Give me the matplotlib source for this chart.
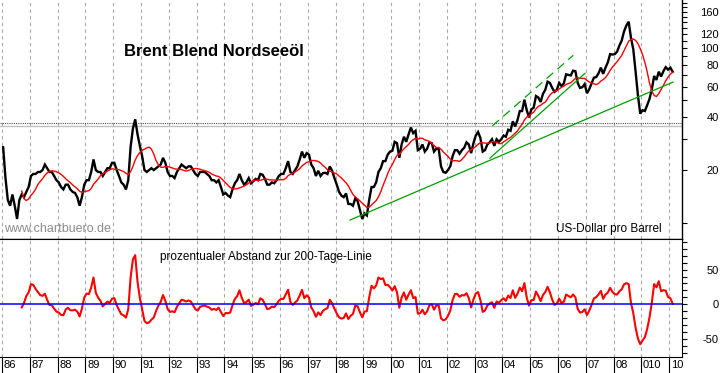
import numpy as np
import matplotlib
matplotlib.use("Agg")
import matplotlib.pyplot as plt
import matplotlib.transforms as mtransforms
from matplotlib import font_manager
from matplotlib.ticker import FixedLocator, NullFormatter, FixedFormatter

# ---------------- data (monthly Brent, USD per barrel) ----------------
p1986 = [27.0, 18.0, 13.5, 12.5, 14.5, 12.5, 10.5, 13.5, 14.5, 14.0, 15.0, 16.0]
p1987 = [18.5, 19.0, 19.0, 19.5, 19.5, 20.0, 21.5, 20.5, 19.5, 19.5, 18.5, 17.5]
p1988 = [17.0, 16.0, 15.5, 16.5, 16.5, 15.5, 15.0, 14.8, 14.0, 12.5, 14.0, 16.5]
p1989 = [17.5, 17.5, 19.5, 23.0, 20.0, 19.5, 19.5, 18.5, 19.5, 20.5, 20.5, 22.0]
p1990 = [22.0, 20.0, 18.5, 17.0, 16.5, 15.5, 17.5, 27.0, 34.5, 39.0, 32.0, 27.5]
p1991 = [24.0, 20.0, 19.5, 20.0, 20.5, 20.0, 20.5, 21.0, 21.5, 23.5, 22.0, 19.5]
p1992 = [18.5, 18.5, 18.0, 19.5, 20.5, 21.5, 21.0, 20.5, 21.0, 21.0, 20.0, 19.0]
p1993 = [18.5, 19.5, 19.5, 19.5, 19.0, 18.5, 17.5, 17.5, 17.0, 17.5, 16.0, 14.5]
p1994 = [14.8, 14.3, 14.0, 15.5, 16.8, 17.5, 19.0, 17.5, 16.5, 17.0, 18.0, 16.8]
p1995 = [17.3, 17.8, 17.5, 19.0, 18.8, 17.8, 16.5, 16.5, 17.0, 16.8, 17.5, 18.5]
p1996 = [19.0, 19.0, 20.5, 22.5, 19.5, 19.0, 20.0, 21.0, 23.0, 25.5, 23.5, 25.0]
p1997 = [24.5, 21.5, 20.5, 18.5, 19.8, 18.5, 19.2, 19.3, 19.0, 21.0, 19.8, 18.0]
p1998 = [16.5, 15.0, 14.3, 14.0, 14.7, 12.8, 12.8, 12.5, 13.8, 13.3, 11.8, 10.5]
p1999 = [11.3, 11.0, 13.5, 16.0, 16.0, 17.0, 19.5, 20.5, 22.5, 22.5, 24.5, 25.5]
p2000 = [25.8, 29.0, 28.5, 23.5, 28.0, 31.0, 29.0, 32.0, 35.0, 32.5, 33.5, 26.0]
p2001 = [26.5, 28.0, 25.5, 26.5, 28.8, 28.5, 25.5, 26.5, 26.5, 21.0, 19.5, 19.3]
p2002 = [20.0, 21.0, 24.0, 26.0, 26.0, 24.8, 26.0, 26.8, 28.8, 28.0, 25.0, 28.5]
p2003 = [31.5, 33.0, 30.5, 25.5, 26.0, 28.0, 28.8, 30.0, 27.5, 30.0, 29.0, 30.0]
p2004 = [31.5, 31.0, 34.0, 33.5, 38.0, 35.5, 38.5, 43.5, 43.5, 50.5, 44.0, 40.0]
p2005 = [44.5, 45.5, 53.0, 52.0, 49.0, 54.5, 57.5, 64.0, 63.0, 59.0, 56.0, 57.5]
p2006 = [63.0, 60.5, 62.5, 70.5, 70.0, 69.5, 74.0, 73.5, 63.0, 59.0, 59.5, 62.0]
p2007 = [55.0, 58.0, 62.5, 67.5, 68.0, 71.5, 77.0, 71.0, 77.0, 82.5, 92.0, 91.5]
p2008 = [92.0, 95.0, 103.0, 110.0, 124.0, 134.0, 141.0, 114.0, 98.0, 73.0, 53.5, 42.0]
p2009 = [44.0, 43.5, 47.0, 51.0, 58.0, 69.0, 65.5, 73.0, 68.5, 73.5, 77.5, 75.0]
p2010 = [77.0, 73.0]

start_year = 1986
ma_months = 9  # ~200 trading days

# trend lines drawn by the chartist (decimal year, price)
support_long_t = [1998.52, 2010.14]
support_long_v = [10.36, 63.7]
support_steep_t = [2003.55, 2006.97]
support_steep_v = [23.4, 71.4]
channel_top_t = [2003.64, 2006.55]
channel_top_v = [35.8, 90.6]
resistance_levels = [37.0, 35.7]

year_ticks = list(range(1986, 2011))
year_labels = ['86', '87', '88', '89', '90', '91', '92', '93', '94', '95', '96',
               '97', '98', '99', '00', '01', '02', '03', '04', '05', '06', '07',
               '08', '010', '10']

price_major = [20, 40, 60, 80, 100, 120, 160]
price_minor = list(range(10, 190, 10))
osc_major = [-50, 0, 50]
osc_minor = list(range(-70, 100, 10))

title = "Brent Blend Nordseeöl"
source = "www.chartbuero.de"
unit = "US-Dollar pro Barrel"
osc_title = "prozentualer Abstand zur 200-Tage-Linie"

# ---------------- derived series ----------------
price = np.array(p1986 + p1987 + p1988 + p1989 + p1990 + p1991 + p1992 + p1993 +
                 p1994 + p1995 + p1996 + p1997 + p1998 + p1999 + p2000 + p2001 +
                 p2002 + p2003 + p2004 + p2005 + p2006 + p2007 + p2008 + p2009 +
                 p2010)
t = start_year + (np.arange(len(price)) + 0.5) / 12.0
ma = np.convolve(price, np.ones(ma_months) / ma_months, mode='valid')
t_ma = t[ma_months - 1:]
osc = (price[ma_months - 1:] / ma - 1.0) * 100.0

# ---------------- fonts ----------------
def has_font(name):
    try:
        font_manager.findfont(font_manager.FontProperties(family=name),
                              fallback_to_default=False)
        return True
    except Exception:
        return False

narrow = has_font('Liberation Sans Narrow')
tick_family = 'Liberation Sans Narrow' if narrow else 'Liberation Sans'
tick_size = 9.5 if narrow else 8.0
plt.rcParams['font.family'] = ['Liberation Sans', 'DejaVu Sans']

# ---------------- figure ----------------
W, H = 723, 373
fig = plt.figure(figsize=(W / 100, H / 100), dpi=100)
ax_l, ax_r = 0, 682
top_y0, top_y1 = 0, 239
bot_y0, bot_y1 = 239, 357
ax1 = fig.add_axes([ax_l / W, 1 - top_y1 / H, (ax_r - ax_l) / W, (top_y1 - top_y0) / H])
ax2 = fig.add_axes([ax_l / W, 1 - bot_y1 / H, (ax_r - ax_l) / W, (bot_y1 - bot_y0) / H])

px_per_year = 27.8
x0 = 1986 - 2 / px_per_year
x1 = x0 + (ax_r - ax_l) / px_per_year

grid_kw = dict(color='#a8a8a8', linestyle=(0, (3, 3)), linewidth=0.8)

# top panel
ax1.set_yscale('log')
ax1.set_xlim(x0, x1)
ax1.set_ylim(8.07, 187.6)
ax1.plot(t, price, color='black', lw=1.7, zorder=3, solid_joinstyle='miter')
ax1.plot(t_ma, ma, color='#ff0000', lw=1.0, zorder=4)
ax1.plot(support_long_t, support_long_v, color='#00a000', lw=0.9, zorder=5)
ax1.plot(support_steep_t, support_steep_v, color='#00a000', lw=0.9, zorder=5)
ax1.plot(channel_top_t, channel_top_v, color='#00a000', lw=0.9, zorder=5,
         linestyle=(0, (7, 4.5)))
ax1.axhline(resistance_levels[0], color='#505050', lw=0.8, linestyle=(0, (1, 1)), zorder=2)
ax1.axhline(resistance_levels[1], color='#c0c0c0', lw=1.0, zorder=2)

ax1.xaxis.set_major_locator(FixedLocator(year_ticks))
ax1.xaxis.set_major_formatter(NullFormatter())
ax1.tick_params(axis='x', length=0)
ax1.grid(axis='x', **grid_kw)
ax1.yaxis.tick_right()
ax1.yaxis.set_major_locator(FixedLocator(price_major))
ax1.yaxis.set_minor_locator(FixedLocator([v for v in price_minor if v not in price_major]))
ax1.yaxis.set_major_formatter(FixedFormatter([str(v) for v in price_major]))
ax1.yaxis.set_minor_formatter(NullFormatter())
ax1.tick_params(axis='y', which='both', direction='out', length=3.6, width=0.8,
                right=True, left=False, labelright=True, labelleft=False, pad=23,
                labelsize=tick_size)
for sp in ('left', 'top'):
    ax1.spines[sp].set_visible(False)
for sp in ('right', 'bottom'):
    ax1.spines[sp].set_linewidth(1.0)

ax1.text(124 / 682, 1 - 52 / 239, title, transform=ax1.transAxes, fontsize=12,
         fontweight='bold', ha='left', va='center', color='black')
ax1.text(4 / 682, 1 - 229 / 239, source, transform=ax1.transAxes, fontsize=9,
         ha='left', va='center', color='#8c8c8c')
ax1.text(662 / 682, 1 - 229 / 239, unit, transform=ax1.transAxes, fontsize=8.5,
         ha='right', va='center', color='black')

# bottom panel
ax2.set_xlim(x0, x1)
ax2.set_ylim(-75.9, 94.1)
ax2.plot(t_ma, osc, color='#ff0000', lw=1.5, zorder=3)
ax2.axhline(0, color='#0000ff', lw=1.1, zorder=4)
ax2.xaxis.set_major_locator(FixedLocator(year_ticks))
ax2.xaxis.set_major_formatter(NullFormatter())
ax2.tick_params(axis='x', direction='out', length=11.5, width=0.8)
ax2.grid(axis='x', **grid_kw)
ax2.yaxis.tick_right()
ax2.yaxis.set_major_locator(FixedLocator(osc_major))
ax2.yaxis.set_minor_locator(FixedLocator([v for v in osc_minor if v not in osc_major]))
ax2.yaxis.set_major_formatter(FixedFormatter([str(v) for v in osc_major]))
ax2.yaxis.set_minor_formatter(NullFormatter())
ax2.tick_params(axis='y', which='both', direction='out', length=3.6, width=0.8,
                right=True, left=False, labelright=True, labelleft=False, pad=23,
                labelsize=tick_size)
ax2.spines['left'].set_visible(False)

ax2.text(160 / 682, 1 - 18 / 118, osc_title, transform=ax2.transAxes, fontsize=8.5,
         ha='left', va='center', color='black')

for ax in (ax1, ax2):
    for tk in ax.yaxis.get_major_ticks():
        tk.label2.set_horizontalalignment('right')
        tk.label2.set_fontfamily(tick_family)

# year labels to the right of each tick
offset = mtransforms.ScaledTranslation(1.2 / 72, 0, fig.dpi_scale_trans)
blend = mtransforms.blended_transform_factory(ax2.transData, ax2.transAxes) + offset
for yr, lab in zip(year_ticks, year_labels):
    ax2.text(yr, -8 / 118, lab, transform=blend, ha='left', va='center',
             fontsize=tick_size, family=tick_family, clip_on=False)

fig.savefig('out.png', dpi=100)
